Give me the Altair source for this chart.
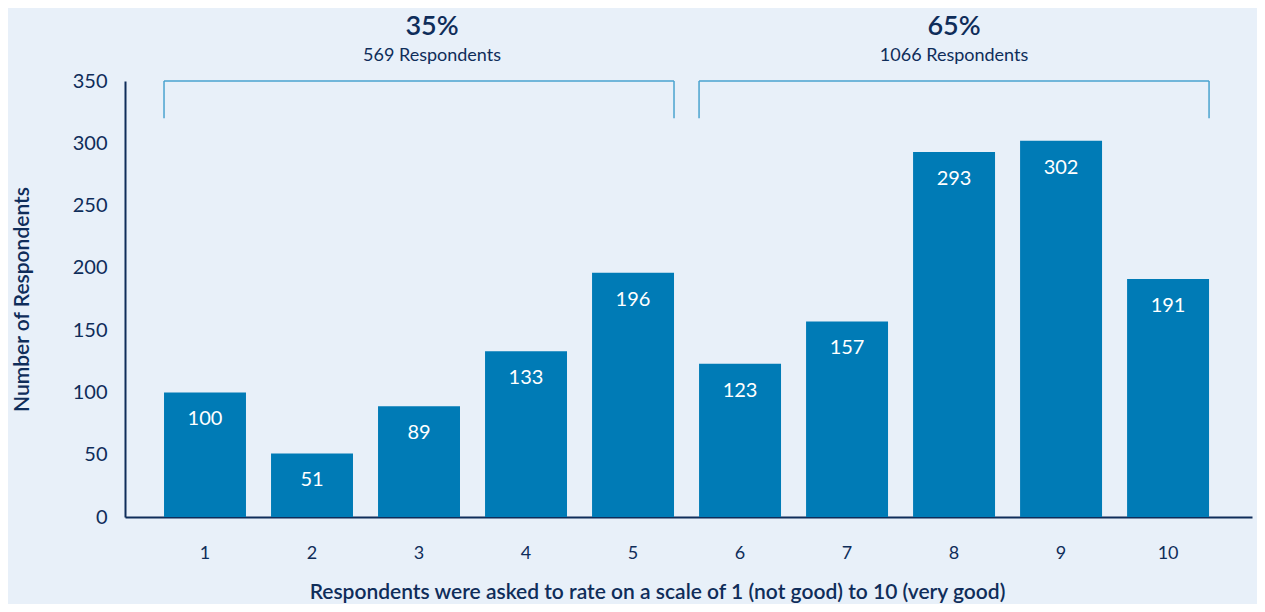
import altair as alt
import pandas as pd

# ---- data ----
ratings = ["1", "2", "3", "4", "5", "6", "7", "8", "9", "10"]
counts = [100, 51, 89, 133, 196, 123, 157, 293, 302, 191]
y_ticks = [0, 50, 100, 150, 200, 250, 300, 350]

group_pct = ["35%", "65%"]
group_n = ["569 Respondents", "1066 Respondents"]
group_start = ["1", "6"]
group_end = ["5", "10"]
group_center = ["3", "8"]
bracket_top = 350
bracket_bottom = 320

NAVY = "#0f2d5a"
BAR = "#007bb6"
BRACKET = "#4aa3cf"
BG = "#e8f0f9"
FONT = "Lato"

bars_df = pd.DataFrame({"rating": ratings, "count": counts})
groups_df = pd.DataFrame({
    "start": group_start, "end": group_end, "center": group_center,
    "pct": group_pct, "n": group_n,
    "top": [bracket_top] * len(group_pct), "bottom": [bracket_bottom] * len(group_pct),
})

xscale = alt.Scale(domain=ratings, paddingInner=0.234, paddingOuter=0.383, align=0.476)
yscale = alt.Scale(domain=[0, 350], nice=False)

x_axis = alt.Axis(
    title="Respondents were asked to rate on a scale of 1 (not good) to 10 (very good)",
    labelAngle=0, ticks=False, labelPadding=27, domainColor=NAVY, domainWidth=2,
    labelColor=NAVY, labelFontSize=18, labelFont=FONT,
    titleFont=FONT, titleFontSize=21, titleFontWeight=600, titleColor=NAVY, titlePadding=19,
    titleX=532, titleAlign="center",
)
y_axis = alt.Axis(
    values=y_ticks, grid=False, ticks=False, domainColor=NAVY, domainWidth=2,
    labelColor=NAVY, labelFontSize=20, labelFont=FONT, labelPadding=18,
    title="Number of Respondents", titleFont=FONT, titleFontSize=21, titleFontWeight=600,
    titleColor=NAVY, titlePadding=40,
)


def X(field, **kw):
    return alt.X(field, scale=xscale, axis=x_axis, **kw)


def Y(field):
    return alt.Y(field, scale=yscale, axis=y_axis)


base = alt.Chart(bars_df)
bars = base.mark_bar(color=BAR).encode(x=X("rating:N"), y=Y("count:Q"))
bar_labels = base.mark_text(color="white", fontSize=20, font=FONT, baseline="alphabetic", dy=33).encode(
    x=X("rating:N"), y=Y("count:Q"), text="count:Q",
)

g = alt.Chart(groups_df)
h_rule = g.mark_rule(color=BRACKET, strokeWidth=1.5).encode(
    x=X("start:N", bandPosition=0),
    x2=alt.X2("end:N", bandPosition=1),
    y=Y("top:Q"),
)
v_left = g.mark_rule(color=BRACKET, strokeWidth=1.5).encode(
    x=X("start:N", bandPosition=0), y=Y("top:Q"), y2="bottom:Q",
)
v_right = g.mark_rule(color=BRACKET, strokeWidth=1.5).encode(
    x=X("end:N", bandPosition=1), y=Y("top:Q"), y2="bottom:Q",
)

text_layers = []
for pct, dx in zip(group_pct, [13, 0]):
    sub = g.transform_filter(alt.datum.pct == pct)
    text_layers.append(sub.mark_text(color=NAVY, fontSize=27, fontWeight=600, font=FONT,
                                     baseline="alphabetic", dy=-46, dx=dx).encode(
        x=X("center:N"), y=Y("top:Q"), text="pct:N",
    ))
    text_layers.append(sub.mark_text(color=NAVY, fontSize=18, font=FONT,
                                     baseline="alphabetic", dy=-20, dx=dx).encode(
        x=X("center:N"), y=Y("top:Q"), text="n:N",
    ))

chart = alt.layer(bars, bar_labels, h_rule, v_left, v_right, *text_layers).properties(
    width=1127, height=436,
    autosize=alt.AutoSizeParams(type="none"),
    padding={"left": 117, "top": 73, "right": 5, "bottom": 87},
    background=BG,
).configure_view(stroke=None)

chart.save("out.html", embed_options={"renderer": "svg", "actions": False})
